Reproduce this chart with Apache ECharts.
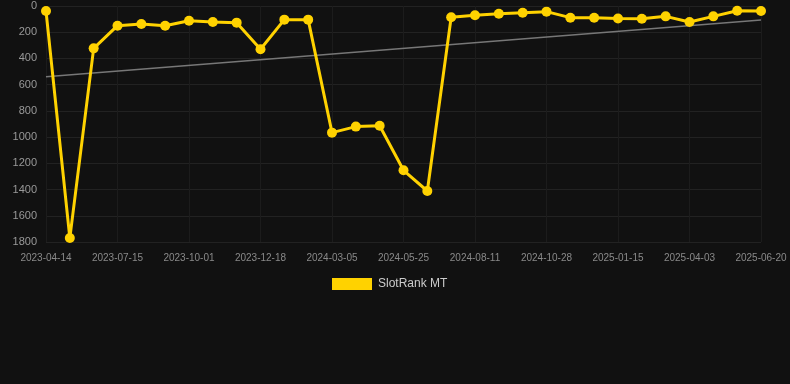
<!DOCTYPE html>
<html>
<head>
<meta charset="utf-8">
<script src="https://cdn.jsdelivr.net/npm/echarts@6/dist/echarts.min.js"></script>
<style>
html, body { margin: 0; padding: 0; background: #111111; }
#rankChart { width: 790px; height: 384px; }
</style>
</head>
<body>
<div id="rankChart"></div>
<script>
var dates = [
	'2023-04-14', '2023-05-14', '2023-06-14',
	'2023-07-15', '2023-08-10', '2023-09-05',
	'2023-10-01', '2023-10-27', '2023-11-22',
	'2023-12-18', '2024-01-13', '2024-02-08',
	'2024-03-05', '2024-03-31', '2024-04-28',
	'2024-05-25', '2024-06-20', '2024-07-16',
	'2024-08-11', '2024-09-06', '2024-10-02',
	'2024-10-28', '2024-11-23', '2024-12-20',
	'2025-01-15', '2025-02-10', '2025-03-08',
	'2025-04-03', '2025-04-29', '2025-05-25',
	'2025-06-20'
];
var rankValues = [
	38, 1770, 323,
	150, 137, 150,
	112, 122, 127,
	330, 104, 104,
	966, 920, 913,
	1253, 1411, 86,
	71, 59, 51,
	43, 89, 89,
	95, 97, 79,
	122, 79, 36,
	38
];
// trend line end points
var trendStart = 539;
var trendEnd = 107;

var rankChart = echarts.init(document.getElementById('rankChart'));

var option = {
	backgroundColor : '#111111',
	animation : false,
	legend : {
		data : [ 'SlotRank MT' ],
		top : 273,
		left : 327,
		itemWidth : 40,
		itemHeight : 12,
		itemGap : 10,
		icon : 'rect',
		textStyle : {
			color : '#cccccc',
			fontSize : 12,
			fontFamily : 'Liberation Sans',
			padding : [ 0, 0, 0, 1 ]
		}
	},
	grid : {
		left : 46,
		right : 29,
		top : 6,
		bottom : 142
	},
	xAxis : [ {
		type : 'category',
		boundaryGap : false,
		data : dates,
		axisLine : { show : false },
		axisTick : { show : false },
		axisLabel : {
			interval : 2,
			color : '#8a8a8a',
			fontSize : 10,
			fontFamily : 'Liberation Sans',
			margin : 11
		},
		splitLine : {
			show : true,
			interval : 2,
			lineStyle : { color : '#1c1c1c', width : 1 }
		}
	} ],
	yAxis : [ {
		type : 'value',
		inverse : true,
		min : 0,
		max : 1800,
		interval : 200,
		axisLine : { show : false },
		axisTick : { show : false },
		axisLabel : {
			color : '#999999',
			fontSize : 11,
			fontFamily : 'Liberation Sans',
			margin : 9,
			formatter : function(v) {
				return String(v);
			}
		},
		splitLine : {
			lineStyle : { color : '#222222', width : 1 }
		}
	} ],
	series : [ {
		name : 'Trend',
		type : 'line',
		data : [ [ dates[0], trendStart ], [ dates[dates.length - 1], trendEnd ] ],
		symbol : 'none',
		silent : true,
		lineStyle : { color : '#777777', width : 1.5 },
		z : 1
	}, {
		name : 'SlotRank MT',
		type : 'line',
		data : rankValues,
		symbol : 'circle',
		symbolSize : 10,
		itemStyle : { color : '#FFD200' },
		lineStyle : { color : '#FFD200', width : 3 },
		z : 3
	} ]
};
rankChart.setOption(option);
</script>
</body>
</html>
